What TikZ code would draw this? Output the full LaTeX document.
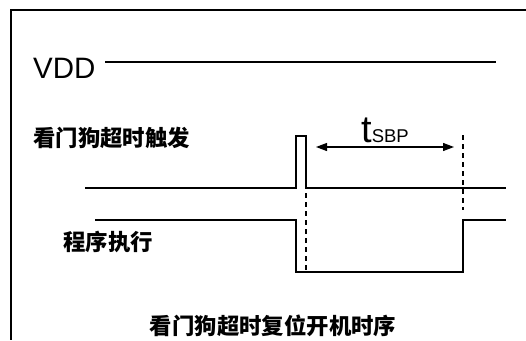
\documentclass[tikz,border=0pt]{standalone}
\usepackage{fontspec}
\setmainfont{Liberation Sans}
\newfontfamily\cjk{Noto Sans CJK SC}
\usetikzlibrary{arrows.meta}
\tikzset{
  sig/.style={line width=1.2pt, line join=miter},
  frameline/.style={line width=1.4pt},
  dash line/.style={line width=1.2pt, dash pattern=on 5pt off 4pt},
  lbl/.style={inner sep=0pt, font=\cjk\bfseries\fontsize{22.4}{22.4}\selectfont},
  dim/.style={line width=1.2pt, {Triangle[length=11pt,width=8pt]}-{Triangle[length=11pt,width=8pt]}}
}
\begin{document}
\begin{tikzpicture}[x=1pt,y=-1pt]
\useasboundingbox (0,0) rectangle (526,340);
% frame
\coordinate (fr) at (526,10);
\coordinate (fc) at (11,10);
\coordinate (fb) at (11,340);
\draw[frameline] (fr) -- (fc) -- (fb);
% VDD
\node[inner sep=0pt, anchor=base west, font=\fontsize{29.5}{29.5}\selectfont] (vdd) at (33,78) {VDD};
\coordinate (v1) at (105,62);
\coordinate (v2) at (496,62);
\draw[sig] (v1) -- (v2);
% watchdog trigger
\node[lbl, anchor=west] (wdt) at (33,138) {看门狗超时触发};
\coordinate (a0) at (85,188);
\coordinate (a1) at (296,188);
\coordinate (a2) at (296,136);
\coordinate (a3) at (306,136);
\coordinate (a4) at (306,188);
\coordinate (a5) at (506,188);
\draw[sig] (a0) -- (a1) -- (a2) -- (a3) -- (a4) -- (a5);
% program execution
\node[lbl, anchor=west] (prg) at (63,242) {程序执行};
\coordinate (b0) at (95,220);
\coordinate (b1) at (296,220);
\coordinate (b2) at (296,272);
\coordinate (b3) at (463,272);
\coordinate (b4) at (463,220);
\coordinate (b5) at (506,220);
\draw[sig] (b0) -- (b1) -- (b2) -- (b3) -- (b4) -- (b5);
% dashed markers
\coordinate (d1t) at (306,193);
\coordinate (d1b) at (306,272);
\draw[dash line] (d1t) -- (d1b);
\coordinate (d2t) at (463,135);
\coordinate (d2b) at (463,210);
\draw[dash line] (d2t) -- (d2b);
% tSBP
\coordinate (t1) at (316,147);
\coordinate (t2) at (454,147);
\draw[dim] (t1) -- (t2);
\node[inner sep=0pt, anchor=base west] (tsbp) at (361,142) {\fontsize{38}{38}\selectfont t\fontsize{18.5}{18.5}\selectfont SBP};
% title
\node[lbl] (title) at (273,326) {看门狗超时复位开机时序};
\end{tikzpicture}
\end{document}
